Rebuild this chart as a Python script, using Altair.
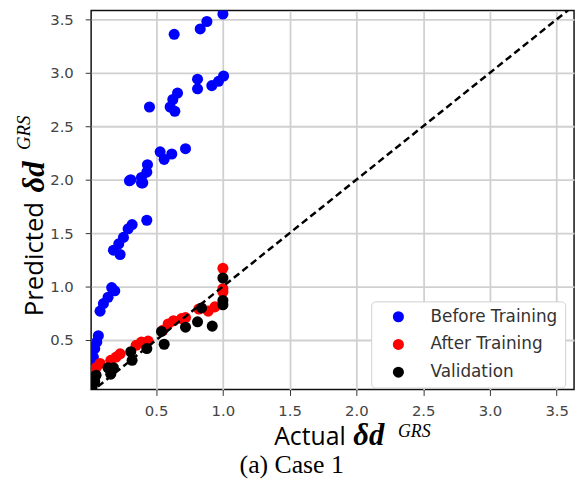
import altair as alt
import pandas as pd

series = ["Before Training", "After Training", "Validation"]
colors = ["#0000ff", "#ff0000", "#000000"]

before_x = [1.0, 1.0, 0.88, 0.83, 0.635, 1.005, 0.967, 0.917, 0.81, 0.81, 0.66, 0.625, 0.605, 0.64,
            0.45, 0.72, 0.53, 0.617, 0.56, 0.435, 0.43, 0.39, 0.31, 0.40, 0.30, 0.39, 0.43, 0.32,
            0.29, 0.255, 0.22, 0.18, 0.23, 0.167, 0.19, 0.14, 0.105, 0.08, 0.067, 0.055, 0.04,
            0.03, 0.022, 0.017]
before_y = [3.64, 3.55, 3.48, 3.41, 3.36, 2.97, 2.92, 2.88, 2.94, 2.85, 2.81, 2.75, 2.68, 2.64,
            2.68, 2.29, 2.26, 2.24, 2.19, 2.14, 2.07, 2.02, 2.0, 1.97, 1.99, 1.97, 1.62, 1.58,
            1.54, 1.46, 1.40, 1.34, 1.30, 0.99, 0.96, 0.90, 0.84, 0.77, 0.54, 0.48, 0.42,
            0.34, 0.26, 0.17]

after_x = [1.0, 1.0, 1.0, 0.94, 0.89, 0.82, 0.72, 0.69, 0.63, 0.59, 0.55, 0.44, 0.39, 0.35,
           0.23, 0.20, 0.16, 0.08, 0.05, 0.03, 0.02]
after_y = [1.17, 0.98, 0.95, 0.81, 0.77, 0.79, 0.71, 0.70, 0.68, 0.65, 0.59, 0.49, 0.48, 0.45,
           0.37, 0.34, 0.31, 0.28, 0.24, 0.18, 0.12]

val_x = [1.0, 1.0, 1.0, 0.84, 0.81, 0.92, 0.72, 0.54, 0.56, 0.43, 0.31, 0.32, 0.18, 0.14,
         0.16, 0.05, 0.04, 0.02]
val_y = [1.08, 0.87, 0.83, 0.80, 0.67, 0.63, 0.62, 0.58, 0.46, 0.42, 0.39, 0.31, 0.24, 0.24,
         0.18, 0.17, 0.11, 0.06]

diag = [0.0, 3.8]
ticks = [0.5, 1.0, 1.5, 2.0, 2.5, 3.0, 3.5]

rows = []
for i, (name, xs, ys) in enumerate(zip(series, [before_x, after_x, val_x], [before_y, after_y, val_y])):
    for x, y in zip(xs, ys):
        rows.append({"series": name, "actual": x, "pred": y, "order": i})
df = pd.DataFrame(rows)
diag_df = pd.DataFrame({"actual": diag, "pred": diag})

xscale = alt.Scale(domain=[0.013, 3.63], nice=False, zero=False)
yscale = alt.Scale(domain=[0.037, 3.583], nice=False, zero=False)

points = alt.Chart(df).mark_circle(size=125, opacity=1, clip=True).encode(
    x=alt.X("actual:Q", scale=xscale, axis=alt.Axis(values=ticks, format=".1f", title=None)),
    y=alt.Y("pred:Q", scale=yscale, axis=alt.Axis(values=ticks, format=".1f", title=None)),
    color=alt.Color("series:N", scale=alt.Scale(domain=series, range=colors),
                    legend=alt.Legend(title=None, orient="none", legendX=283, legendY=294,
                                      fillColor="white", strokeColor="#d0d0d0", cornerRadius=4,
                                      padding=7, symbolType="circle", symbolSize=125,
                                      symbolStrokeWidth=0, symbolOpacity=1, labelFont="DejaVu Sans",
                                      labelFontSize=17, labelColor="#333333", labelOffset=24,
                                      rowPadding=10, symbolOffset=12)),
    order=alt.Order("order:Q"),
)

line = alt.Chart(diag_df).mark_line(color="black", strokeDash=[7, 4], strokeWidth=2.5, clip=True).encode(
    x=alt.X("actual:Q", scale=xscale),
    y=alt.Y("pred:Q", scale=yscale),
)

one = pd.DataFrame({"k": [0]})


def txt(text, x, y, font, size, style="normal", weight="normal", angle=0):
    return alt.Chart(one).mark_text(
        text=text, font=font, fontSize=size, fontStyle=style, fontWeight=weight,
        angle=angle, align="left", baseline="alphabetic", color="black"
    ).encode(x=alt.value(x), y=alt.value(y))


titles = [
    txt("Actual", 185, 439, "Open Sans", 25),
    txt("δd", 265, 439, "Liberation Serif", 31, "italic", "bold"),
    txt("GRS", 310, 431, "Liberation Serif", 18, "italic"),
    txt("(a) Case 1", 150, 467, "Liberation Serif", 26),
    txt("Predicted", -49, 309, "Open Sans", 26, angle=270),
    txt("δd", -48, 184, "Liberation Serif", 31, "italic", "bold", angle=270),
    txt("GRS", -62, 141, "Liberation Serif", 19, "italic", angle=270),
]

chart = alt.layer(points, line, *titles).properties(
    width=488, height=383,
    autosize=alt.AutoSizeParams(type="none"),
    padding={"left": 84, "top": 0, "right": 5, "bottom": 90},
).configure_view(
    stroke="#111111", strokeWidth=1.5
).configure_axis(
    domain=False, grid=True, gridColor="#d0d0d0", gridWidth=1.8,
    tickColor="#333333", tickSize=6, labelFont="DejaVu Sans", labelFontSize=15,
    labelColor="#444444",
).configure_axisX(
    labelPadding=8
).configure_axisY(
    labelPadding=12
)

chart.save("out.html", embed_options={"renderer": "svg", "actions": False})
